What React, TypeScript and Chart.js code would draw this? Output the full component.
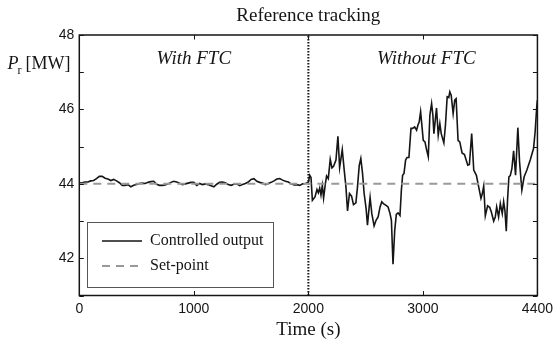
import React, { useEffect, useRef } from 'react';
import { Chart, registerables } from 'chart.js';

Chart.register(...registerables);

// ---------- data ----------
const titleText = 'Reference tracking';
const xTitle = 'Time (s)';
const xTickValues = [0, 1000, 2000, 3000, 4000];
const xTickLabels = ['0', '1000', '2000', '3000', '4400'];
const yTickValues = [41, 42, 43, 44, 45, 46, 47, 48];
const yTickLabels = ['', '42', '', '44', '', '46', '', '48'];
const setPoint = 44;
const switchTime = 2000;
const regionLabels = ['With FTC', 'Without FTC'];
const regionLabelTimes = [1000, 3030];
const legendLabels = ['Controlled output', 'Set-point'];

// With FTC: sampled every 25 s from 0 to 2000 s
const withFtcStep = 25;
const withFtcOutput = [
  44.03, 44.03, 44.05, 44.05, 44.08, 44.09, 44.14, 44.2, 44.2, 44.15,
  44.13, 44.09, 44.12, 44.08, 44.03, 43.96, 43.96, 43.98, 43.92, 43.96,
  43.98, 44.01, 44.02, 44.01, 44.04, 44.06, 44.07, 43.99, 43.96, 43.96,
  43.97, 44.0, 44.04, 44.07, 44.05, 44.02, 43.98, 44.0, 44.02, 44.04,
  44.04, 43.96, 44.01, 43.98, 44.0, 43.98, 43.95, 43.92, 43.99, 44.04,
  44.05, 44.03, 43.98, 43.96, 43.99, 44.0, 43.95, 43.98, 44.01, 44.05,
  44.12, 44.14, 44.07, 44.04, 44.02, 43.98, 44.01, 44.04, 44.08, 44.13,
  44.14, 44.1, 44.07, 44.05, 44.0, 43.97, 43.98, 43.96, 44.0, 44.01,
  44.04,
];

// Without FTC
const withoutFtcTime = [
  2012, 2023, 2035, 2058, 2075, 2087, 2099, 2110, 2122, 2133,
  2148, 2159, 2174, 2191, 2206, 2220, 2241, 2258, 2273, 2296,
  2313, 2328, 2342, 2359, 2377, 2394, 2415, 2429, 2444, 2458,
  2473, 2487, 2504, 2516, 2531, 2539, 2554, 2574, 2591, 2609,
  2626, 2641, 2655, 2675, 2696, 2713, 2725, 2739, 2754, 2768,
  2783, 2800, 2812, 2823, 2835, 2849, 2861, 2878, 2896, 2910,
  2928, 2945, 2957, 2968, 2980, 2991, 3003, 3018, 3032, 3047,
  3061, 3076, 3087, 3096, 3119, 3134, 3148, 3160, 3183, 3197,
  3212, 3226, 3235, 3247, 3264, 3278, 3290, 3307, 3322, 3342,
  3363, 3377, 3392, 3406, 3426, 3444, 3467, 3487, 3507, 3519,
  3531, 3545, 3565, 3583, 3597, 3618, 3632, 3644, 3661, 3676,
  3693, 3705, 3716, 3728, 3739, 3751, 3763, 3777, 3792, 3809,
  3829, 3844, 3864, 3884, 3908, 3937, 3966, 3980, 3994, 4000,
];
const withoutFtcOutput = [
  44.23, 44.17, 43.56, 43.65, 43.85, 43.76, 43.89, 43.7, 43.96, 43.62,
  43.99, 44.21, 44.14, 44.66, 44.43, 44.47, 44.64, 45.28, 44.44, 44.92,
  44.37, 43.92, 43.27, 43.74, 43.67, 43.44, 43.49, 43.92, 44.49, 44.68,
  44.28, 43.74, 43.34, 42.89, 43.38, 43.63, 43.2, 42.87, 43.02, 43.11,
  43.38, 43.52, 43.47, 43.43, 43.38, 43.2, 43.02, 41.84, 42.75, 43.18,
  43.22, 43.15, 43.83, 44.23, 44.28, 44.64, 44.71, 44.71, 45.49, 45.49,
  45.53, 45.44, 45.58, 45.67, 45.94, 45.58, 45.17, 45.13, 44.92, 44.73,
  45.85, 46.16, 45.85, 45.35, 46.04, 45.31, 45.62, 45.35, 45.1, 45.58,
  46.34, 46.32, 46.47, 46.38, 45.89, 46.25, 46.29, 45.17, 45.13, 44.83,
  44.79, 44.65, 44.5, 44.52, 45.35, 44.37, 44.23, 43.92, 43.61, 43.74,
  43.94, 43.14, 43.41, 43.37, 43.25, 43.0, 43.11, 43.38, 43.11, 43.47,
  43.2, 43.52, 43.29, 42.73, 43.56, 44.19, 44.22, 44.41, 44.89, 44.23,
  45.51, 44.59, 43.83, 44.19, 44.37, 44.64, 44.95, 45.4, 46.07, 46.25,
];

// ---------- styling ----------
const SERIF = '"Liberation Serif", "Times New Roman", serif';
const SANS = '"Liberation Sans", Arial, sans-serif';
const INK = '#151515';

const outputPoints = [
  ...withFtcOutput.map((v, i) => ({ x: i * withFtcStep, y: v })),
  ...withoutFtcOutput.map((v, i) => ({ x: withoutFtcTime[i], y: v })),
];

const decorPlugin = {
  id: 'decor',
  afterDraw(chart: any) {
    const { ctx, chartArea: a, scales } = chart;
    const xs = scales.x;
    const ys = scales.y;
    ctx.save();

    // frame
    ctx.strokeStyle = INK;
    ctx.lineWidth = 1.5;
    ctx.setLineDash([]);
    ctx.strokeRect(a.left, a.top, a.right - a.left, a.bottom - a.top);

    // inward ticks
    ctx.lineWidth = 1;
    ctx.beginPath();
    xTickValues.forEach((v) => {
      const px = Math.round(xs.getPixelForValue(v)) + 0.5;
      ctx.moveTo(px, a.bottom);
      ctx.lineTo(px, a.bottom - 4.5);
      ctx.moveTo(px, a.top);
      ctx.lineTo(px, a.top + 4.5);
    });
    yTickValues.forEach((v) => {
      const py = Math.round(ys.getPixelForValue(v)) + 0.5;
      ctx.moveTo(a.left, py);
      ctx.lineTo(a.left + 4.5, py);
      ctx.moveTo(a.right, py);
      ctx.lineTo(a.right - 4.5, py);
    });
    ctx.stroke();

    ctx.fillStyle = INK;
    // title
    ctx.font = `19px ${SERIF}`;
    ctx.textAlign = 'center';
    ctx.textBaseline = 'alphabetic';
    ctx.fillText(titleText, (a.left + a.right) / 2, 21);

    // x title
    ctx.fillText(xTitle, (a.left + a.right) / 2, 335);

    // region labels
    ctx.font = `italic 19px ${SERIF}`;
    regionLabels.forEach((t, i) => {
      ctx.fillText(t, xs.getPixelForValue(regionLabelTimes[i]), 64);
    });

    // y label  P_r [MW]
    ctx.textAlign = 'left';
    let cx = 7.5;
    ctx.font = `italic 18px ${SERIF}`;
    ctx.fillText('P', cx, 68.5);
    cx += ctx.measureText('P').width - 1;
    ctx.font = `12px ${SERIF}`;
    ctx.fillText('r', cx, 74);
    cx += ctx.measureText('r').width + 4;
    ctx.font = `18px ${SERIF}`;
    ctx.fillText('[MW]', cx, 68.5);

    // legend
    const lx0 = 87, ly0 = 222, lx1 = 273, ly1 = 287;
    ctx.fillStyle = '#ffffff';
    ctx.fillRect(lx0, ly0, lx1 - lx0, ly1 - ly0);
    ctx.strokeStyle = '#555';
    ctx.lineWidth = 1;
    ctx.strokeRect(lx0 + 0.5, ly0 + 0.5, lx1 - lx0, ly1 - ly0);
    const rows = [241, 266];
    ctx.lineWidth = 1.6;
    ctx.strokeStyle = INK;
    ctx.beginPath();
    ctx.moveTo(102, rows[0]);
    ctx.lineTo(142, rows[0]);
    ctx.stroke();
    ctx.strokeStyle = '#999';
    ctx.lineWidth = 2;
    ctx.setLineDash([8, 6]);
    ctx.beginPath();
    ctx.moveTo(102, rows[1]);
    ctx.lineTo(142, rows[1]);
    ctx.stroke();
    ctx.setLineDash([]);
    ctx.fillStyle = INK;
    ctx.font = `16px ${SERIF}`;
    ctx.textBaseline = 'middle';
    legendLabels.forEach((t, i) => ctx.fillText(t, 150, rows[i]));

    ctx.restore();
  },
};

export default function App() {
  const ref = useRef<HTMLCanvasElement>(null);
  useEffect(() => {
    const canvas = ref.current!;
    const chart = new Chart(canvas, {
      type: 'line',
      data: {
        datasets: [
          {
            label: legendLabels[1],
            data: [
              { x: 0, y: setPoint },
              { x: 4000, y: setPoint },
            ],
            borderColor: '#999',
            borderWidth: 2,
            borderDash: [8, 6],
            pointRadius: 0,
          },
          {
            label: 'switch',
            data: [
              { x: switchTime, y: 41 },
              { x: switchTime, y: 48 },
            ],
            borderColor: INK,
            borderWidth: 2,
            borderDash: [1.5, 1.5],
            pointRadius: 0,
          },
          {
            label: legendLabels[0],
            data: outputPoints,
            borderColor: INK,
            borderWidth: 1.6,
            pointRadius: 0,
            tension: 0,
          },
        ],
      },
      options: {
        animation: false,
        responsive: false,
        maintainAspectRatio: false,
        devicePixelRatio: 1,
        layout: { padding: { left: 0, top: 35, right: 16.5, bottom: 0 } },
        plugins: {
          legend: { display: false },
          title: { display: false },
          tooltip: { enabled: false },
        },
        scales: {
          x: {
            type: 'linear',
            min: 0,
            max: 4000,
            grid: { display: false, drawTicks: false },
            border: { display: false },
            afterBuildTicks: (s: any) => {
              s.ticks = xTickValues.map((v) => ({ value: v }));
            },
            afterFit: (s: any) => {
              s.height = 46.5;
            },
            ticks: {
              autoSkip: false,
              maxRotation: 0,
              padding: 5,
              color: INK,
              font: { family: SANS, size: 14 },
              callback: (_v: any, i: number) => xTickLabels[i],
            },
          },
          y: {
            type: 'linear',
            min: 41,
            max: 48,
            grid: { display: false, drawTicks: false },
            border: { display: false },
            afterBuildTicks: (s: any) => {
              s.ticks = yTickValues.map((v) => ({ value: v }));
            },
            afterFit: (s: any) => {
              s.width = 79.3;
            },
            ticks: {
              autoSkip: false,
              padding: 5,
              color: INK,
              font: { family: SANS, size: 14 },
              callback: (_v: any, i: number) => yTickLabels[i],
            },
          },
        },
      },
      plugins: [decorPlugin],
    } as any);
    return () => chart.destroy();
  }, []);
  return (
    <div style={{ position: 'absolute', left: 0, top: 0, width: 558, height: 342, background: '#fff' }}>
      <canvas ref={ref} width={558} height={342} style={{ display: 'block', width: 558, height: 342 }} />
    </div>
  );
}
